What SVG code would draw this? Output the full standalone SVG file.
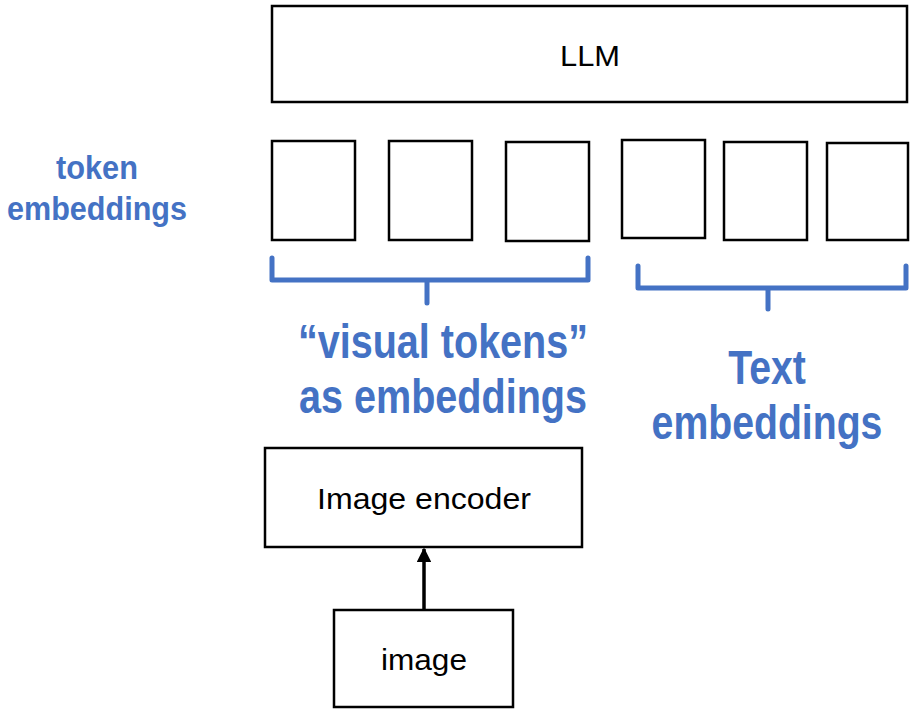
<svg xmlns="http://www.w3.org/2000/svg" width="910" height="710" viewBox="0 0 910 710">
<style>
.box{fill:#fff;stroke:#000;stroke-width:2.5}
.lbl{font-family:"Liberation Sans",Arial,sans-serif;font-size:30px;fill:#000;text-anchor:middle}
.blue{font-family:"Liberation Sans",Arial,sans-serif;font-weight:bold;fill:#4472C4;text-anchor:middle}
.br{fill:none;stroke:#4472C4;stroke-width:5;stroke-linecap:round;stroke-linejoin:round}
</style>
<defs>
<marker id="arr" viewBox="0 0 10 10" refX="9" refY="5" markerWidth="4.2" markerHeight="4.2" orient="auto" markerUnits="strokeWidth">
<path d="M0,0 L10,5 L0,10 z" fill="#000"/>
</marker>
</defs>
<rect width="910" height="710" fill="#fff"/>
<g id="llm"><rect class="box" x="272" y="6" width="635" height="96"/><text class="lbl" x="590" y="66" textLength="60" lengthAdjust="spacingAndGlyphs">LLM</text></g>
<g id="tok1"><rect class="box" x="272" y="141" width="83" height="99"/></g>
<g id="tok2"><rect class="box" x="389" y="141" width="83" height="99"/></g>
<g id="tok3"><rect class="box" x="506" y="142" width="83" height="99"/></g>
<g id="tok4"><rect class="box" x="622" y="140" width="83" height="98"/></g>
<g id="tok5"><rect class="box" x="724" y="142" width="83" height="98"/></g>
<g id="tok6"><rect class="box" x="827" y="143" width="81" height="97"/></g>
<g id="token-label"><text class="blue" font-size="34"><tspan x="97" y="179" textLength="82" lengthAdjust="spacingAndGlyphs">token</tspan><tspan x="97" y="220" textLength="180" lengthAdjust="spacingAndGlyphs">embeddings</tspan></text></g>
<g id="visual-label"><text class="blue" font-size="49"><tspan x="443" y="358" textLength="290" lengthAdjust="spacingAndGlyphs">“visual tokens”</tspan><tspan x="443" y="413" textLength="288" lengthAdjust="spacingAndGlyphs">as embeddings</tspan></text></g>
<g id="text-label" transform="translate(767,0) scale(0.8,1)"><text class="blue" font-size="49"><tspan x="0" y="384">Text</tspan><tspan x="0" y="439">embeddings</tspan></text></g>
<g id="encoder"><rect class="box" x="265" y="448" width="317" height="99"/><text class="lbl" x="424" y="509" textLength="214" lengthAdjust="spacingAndGlyphs">Image encoder</text></g>
<g id="image"><rect class="box" x="334" y="610" width="179" height="97"/><text class="lbl" x="424" y="670" textLength="86" lengthAdjust="spacingAndGlyphs">image</text></g>
<g id="connectors">
<path class="br" d="M272,258 V280 H588 V258 M427,280 V303"/>
<path class="br" d="M638,266 V288 H906 V266 M768,288 V309"/>
<line x1="424" y1="610" x2="424" y2="549" stroke="#000" stroke-width="3.5" marker-end="url(#arr)"/>
</g>
</svg>
